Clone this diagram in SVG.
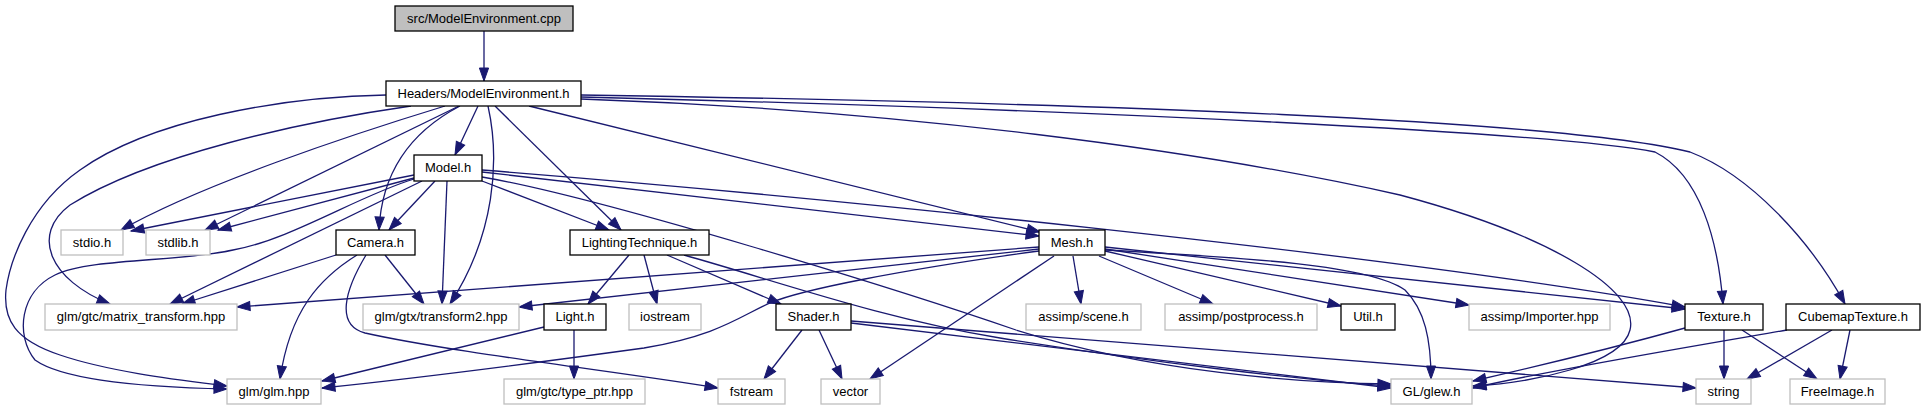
<svg xmlns="http://www.w3.org/2000/svg" width="1925" height="411" viewBox="0 0 1925 411">
<defs>
<marker id="ah" markerUnits="userSpaceOnUse" markerWidth="13" markerHeight="10" refX="13" refY="5" orient="auto" overflow="visible">
<path d="M0,0.4 L13,5 L0,9.6 z" fill="#191970" stroke="#191970" stroke-width="1"/>
</marker>
</defs>
<style>
.n rect{fill:#fff;stroke:#000;stroke-width:1.3}
.g rect{fill:#fff;stroke:#bfbfbf;stroke-width:1.3}
.root rect{fill:#bfbfbf;stroke:#000;stroke-width:1.3}
text{font-family:"Liberation Sans",Arial,sans-serif;font-size:13px;fill:#000;text-anchor:middle}
#edges path{fill:none;stroke:#191970;stroke-width:1.3;marker-end:url(#ah)}
</style>
<rect width="1925" height="411" fill="#fff"/>
<g id="edges">
<path d="M484,31 L484,81"/>
<path d="M478,106 L455,155"/>
<path d="M460,106 C418,128 382,165 379,230"/>
<path d="M488,106 C500,160 495,235 450,304"/>
<path d="M495,106 L621,230"/>
<path d="M529,106 L1040,232"/>
<path d="M445,106 C350,135 200,185 121,230"/>
<path d="M459,106 L205,230"/>
<path d="M411,106 C300,122 150,155 70,205 C30,235 50,280 110,304"/>
<path d="M386,95 C280,97 150,120 80,170 C30,205 10,260 6,290 C3,320 15,340 60,355 C110,372 180,380 227,386"/>
<path d="M581,97 C1100,110 1560,133 1655,152 C1700,175 1718,240 1723,304"/>
<path d="M581,95 C1100,103 1560,120 1690,152 C1750,175 1810,240 1845,304"/>
<path d="M581,99 C900,110 1200,150 1400,195 C1550,235 1640,290 1630,330 C1622,365 1530,383 1473,386"/>
<path d="M435,181 L389,230"/>
<path d="M447,181 L442,304"/>
<path d="M482,181 L609,230"/>
<path d="M482,172 L1039,236"/>
<path d="M482,170 C800,195 1400,255 1685,307"/>
<path d="M414,175 L131,231"/>
<path d="M414,178 L218,230"/>
<path d="M414,179 C360,195 290,240 233,250 C180,262 90,258 55,275 C20,292 15,335 35,360 C70,385 180,388 227,389"/>
<path d="M422,181 L170,304"/>
<path d="M482,177 C600,197 900,290 1016,330 C1150,372 1300,383 1391,384"/>
<path d="M385,255 L424,304"/>
<path d="M336,255 L182,304"/>
<path d="M357,255 C320,278 290,310 280,379"/>
<path d="M366,255 C345,290 335,325 365,333 C450,352 620,372 718,388"/>
<path d="M629,255 L588,304"/>
<path d="M644,255 L657,304"/>
<path d="M667,255 L781,304"/>
<path d="M684,255 C780,282 880,318 1000,338 C1150,362 1300,380 1391,386"/>
<path d="M544,327 L322,381"/>
<path d="M574,330 L574,379"/>
<path d="M1039,247 L237,307"/>
<path d="M1039,249 L519,307"/>
<path d="M1039,251 C900,270 800,290 770,303 C740,316 720,335 644,348 C520,365 400,380 322,388"/>
<path d="M1054,256 L870,379"/>
<path d="M1073,256 L1081,304"/>
<path d="M1099,256 L1213,304"/>
<path d="M1105,251 L1341,306"/>
<path d="M1105,249 L1469,305"/>
<path d="M1105,247 L1685,309"/>
<path d="M1105,250 C1250,258 1370,265 1405,290 C1425,310 1431,340 1431,379"/>
<path d="M802,330 L764,379"/>
<path d="M819,330 L842,379"/>
<path d="M851,323 L1391,388"/>
<path d="M851,321 L1696,388"/>
<path d="M1685,328 C1620,346 1530,368 1473,381"/>
<path d="M1724,330 L1724,379"/>
<path d="M1742,330 L1817,379"/>
<path d="M1787,330 C1700,345 1550,370 1473,388"/>
<path d="M1832,330 L1747,379"/>
<path d="M1850,330 L1840,379"/>
</g>
<g id="node-src" class="root"><rect x="395" y="6" width="178" height="25"/><text x="484" y="22.5">src/ModelEnvironment.cpp</text></g>
<g id="node-headers" class="n"><rect x="386" y="81" width="195" height="25"/><text x="483.5" y="97.5">Headers/ModelEnvironment.h</text></g>
<g id="node-model" class="n"><rect x="414" y="155" width="68" height="26"/><text x="448" y="172">Model.h</text></g>
<g id="node-stdio" class="g"><rect x="61" y="230" width="62" height="25"/><text x="92" y="246.5">stdio.h</text></g>
<g id="node-stdlib" class="g"><rect x="146" y="230" width="64" height="25"/><text x="178" y="246.5">stdlib.h</text></g>
<g id="node-camera" class="n"><rect x="336" y="230" width="79" height="25"/><text x="375.5" y="246.5">Camera.h</text></g>
<g id="node-lighting" class="n"><rect x="570" y="230" width="139" height="25"/><text x="639.5" y="246.5">LightingTechnique.h</text></g>
<g id="node-mesh" class="n"><rect x="1039" y="230" width="66" height="25"/><text x="1072" y="246.5">Mesh.h</text></g>
<g id="node-matrix" class="g"><rect x="45" y="304" width="192" height="26"/><text x="141" y="321">glm/gtc/matrix_transform.hpp</text></g>
<g id="node-transform2" class="g"><rect x="363" y="304" width="156" height="26"/><text x="441" y="321">glm/gtx/transform2.hpp</text></g>
<g id="node-light" class="n"><rect x="544" y="304" width="62" height="26"/><text x="575" y="321">Light.h</text></g>
<g id="node-iostream" class="g"><rect x="629" y="304" width="72" height="26"/><text x="665" y="321">iostream</text></g>
<g id="node-shader" class="n"><rect x="776" y="304" width="75" height="26"/><text x="813.5" y="321">Shader.h</text></g>
<g id="node-scene" class="g"><rect x="1026" y="304" width="115" height="26"/><text x="1083.5" y="321">assimp/scene.h</text></g>
<g id="node-postprocess" class="g"><rect x="1165" y="304" width="152" height="26"/><text x="1241" y="321">assimp/postprocess.h</text></g>
<g id="node-util" class="n"><rect x="1341" y="304" width="54" height="26"/><text x="1368" y="321">Util.h</text></g>
<g id="node-importer" class="g"><rect x="1469" y="304" width="141" height="26"/><text x="1539.5" y="321">assimp/Importer.hpp</text></g>
<g id="node-texture" class="n"><rect x="1685" y="304" width="78" height="26"/><text x="1724" y="321">Texture.h</text></g>
<g id="node-cubemap" class="n"><rect x="1786" y="304" width="134" height="26"/><text x="1853" y="321">CubemapTexture.h</text></g>
<g id="node-glm" class="g"><rect x="227" y="379" width="94" height="25"/><text x="274" y="395.5">glm/glm.hpp</text></g>
<g id="node-typeptr" class="g"><rect x="504" y="379" width="141" height="25"/><text x="574.5" y="395.5">glm/gtc/type_ptr.hpp</text></g>
<g id="node-fstream" class="g"><rect x="718" y="379" width="67" height="25"/><text x="751.5" y="395.5">fstream</text></g>
<g id="node-vector" class="g"><rect x="821" y="379" width="59" height="25"/><text x="850.5" y="395.5">vector</text></g>
<g id="node-glew" class="g"><rect x="1391" y="379" width="81" height="25"/><text x="1431.5" y="395.5">GL/glew.h</text></g>
<g id="node-string" class="g"><rect x="1696" y="379" width="55" height="25"/><text x="1723.5" y="395.5">string</text></g>
<g id="node-freeimage" class="g"><rect x="1790" y="379" width="95" height="25"/><text x="1837.5" y="395.5">FreeImage.h</text></g>
</svg>
